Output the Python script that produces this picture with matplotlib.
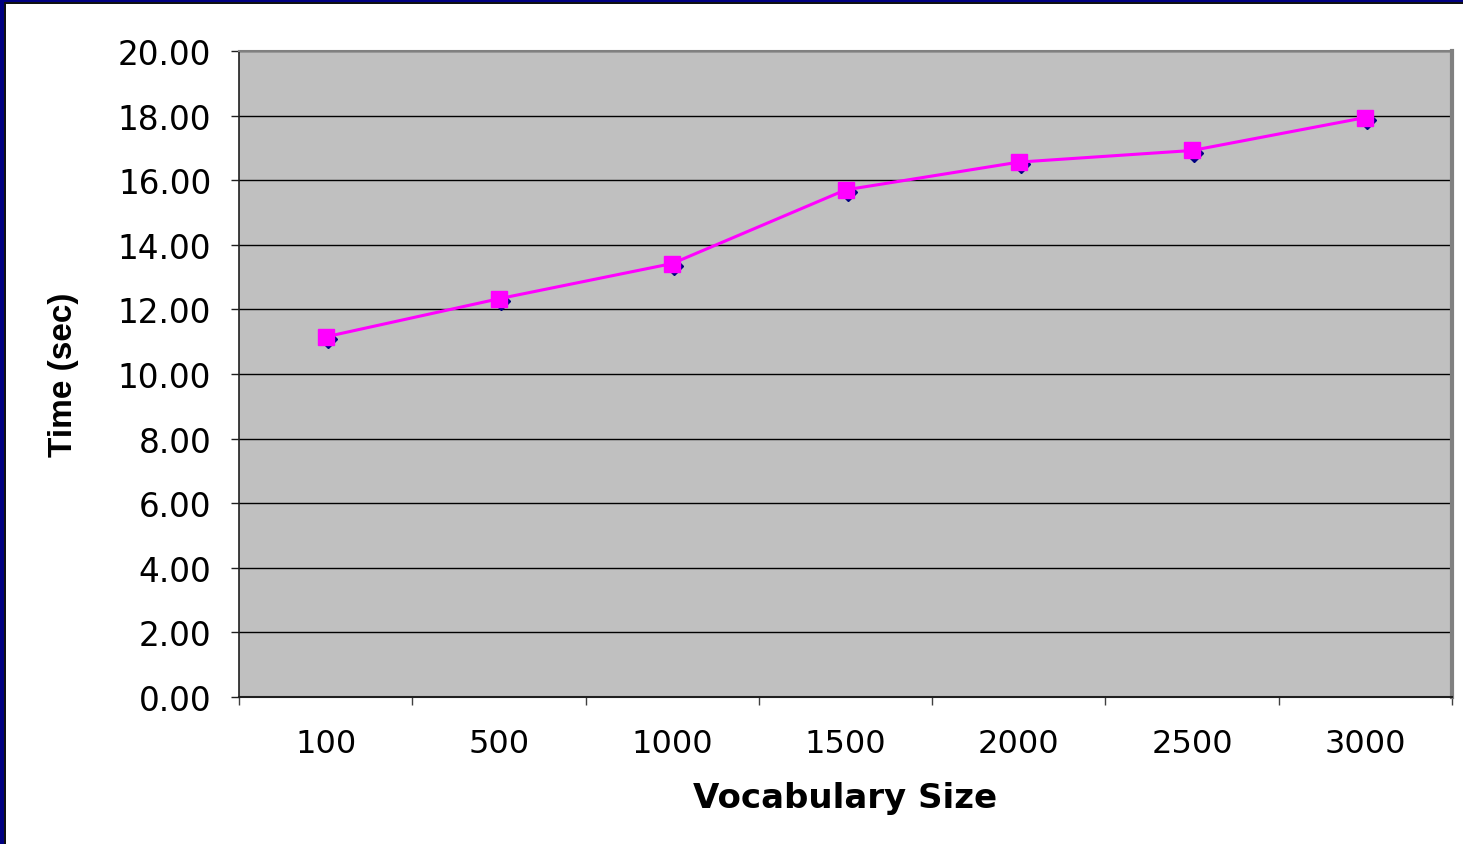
import matplotlib
matplotlib.use("Agg")
import matplotlib.pyplot as plt
from matplotlib.patches import Rectangle
from matplotlib.transforms import ScaledTranslation
from matplotlib.ticker import FixedLocator, FormatStrFormatter

# vocabulary size vs. recognition time
vocab_sizes = ["100", "500", "1000", "1500", "2000", "2500", "3000"]
time_sec = [11.15, 12.33, 13.42, 15.70, 16.56, 16.92, 17.94]
y_ticks = [0, 2, 4, 6, 8, 10, 12, 14, 16, 18, 20]

fig = plt.figure(figsize=(14.63, 8.45), dpi=100)
fig.patch.set_facecolor("white")

# slide frame (navy band with a thin dark edge)
fig.patches.append(Rectangle((0, 0), 4 / 1463, 1, transform=fig.transFigure,
                             facecolor="#000080", edgecolor="none", zorder=10))
fig.patches.append(Rectangle((4 / 1463, 0), 1.5 / 1463, 1 - 4 / 845, transform=fig.transFigure,
                             facecolor="#111111", edgecolor="none", zorder=10))
fig.patches.append(Rectangle((0, 1 - 3 / 845), 1, 3 / 845, transform=fig.transFigure,
                             facecolor="#000080", edgecolor="none", zorder=10))
fig.patches.append(Rectangle((4 / 1463, 1 - 4.5 / 845), 1, 1.5 / 845, transform=fig.transFigure,
                             facecolor="#111111", edgecolor="none", zorder=10))

ax = fig.add_axes([239 / 1463, 1 - 698 / 845, (1452 - 239) / 1463, (698 - 52) / 845])
ax.set_facecolor("#C0C0C0")

x = list(range(len(vocab_sizes)))

# hidden series drawn underneath (navy diamonds), slightly offset
shift = ScaledTranslation(1.5 / 72, -1.5 / 72, fig.dpi_scale_trans)
ax.plot(x, time_sec, linestyle="none", marker="D", markersize=9.5,
        color="#000080", transform=ax.transData + shift, zorder=3, clip_on=False)
ax.plot(x, time_sec, color="#FF00FF", linewidth=2.2, marker="s", markersize=12,
        markerfacecolor="#FF00FF", markeredgecolor="#FF00FF", zorder=4, clip_on=False)

ax.set_xlim(-0.5, len(vocab_sizes) - 0.5)
ax.set_ylim(0, 20)

# category boundaries get tick marks, labels sit between them
ax.xaxis.set_major_locator(FixedLocator([i - 0.5 for i in range(len(vocab_sizes) + 1)]))
ax.xaxis.set_minor_locator(FixedLocator(x))
ax.set_xticklabels([], minor=False)
ax.set_xticklabels(vocab_sizes, minor=True, fontsize=23, family="DejaVu Sans")
ax.tick_params(axis="x", which="major", direction="out", length=6, width=1, color="#404040")
ax.tick_params(axis="x", which="minor", length=0, pad=22)

ax.set_yticks(y_ticks)
ax.yaxis.set_major_formatter(FormatStrFormatter("%.2f"))
ax.tick_params(axis="y", direction="out", length=6, width=1, color="#202020",
               labelsize=23.5, pad=14)
for lbl in ax.get_yticklabels():
    lbl.set_family("DejaVu Sans")

ax.grid(axis="y", color="black", linewidth=1.0)
ax.set_axisbelow(True)

ax.spines["left"].set_color("#202020")
ax.spines["left"].set_linewidth(1.2)
ax.spines["bottom"].set_color("#202020")
ax.spines["bottom"].set_linewidth(1.5)
ax.spines["top"].set_color("#808080")
ax.spines["top"].set_linewidth(1.5)
ax.spines["right"].set_color("#808080")
ax.spines["right"].set_linewidth(3)

ax.set_xlabel("Vocabulary Size", fontsize=24.5, fontweight="bold",
              family="DejaVu Sans", labelpad=16)
ax.set_ylabel("Time (sec)", fontsize=24, fontweight="bold",
              family=["Liberation Sans Narrow", "Liberation Sans"], labelpad=28)

fig.savefig("out.png", dpi=100, facecolor=fig.get_facecolor())
